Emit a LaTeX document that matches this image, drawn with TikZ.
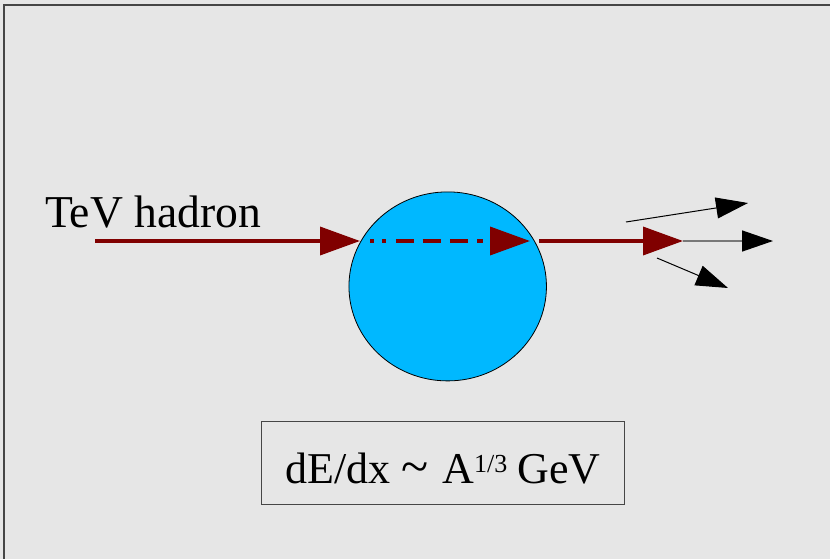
\documentclass[tikz,border=0pt]{standalone}
\usepackage{fontspec}
\setmainfont{Liberation Serif}
\usetikzlibrary{arrows.meta,shapes.geometric}
\definecolor{bg}{RGB}{230,230,230}
\definecolor{darkred}{RGB}{128,0,0}
\definecolor{ballblue}{RGB}{0,184,255}
\definecolor{framegray}{RGB}{70,70,70}
\definecolor{midgray}{RGB}{120,120,120}
\tikzset{
  redarrow/.style={draw=darkred, line width=3.6pt, -{Triangle[length=40pt,width=28pt]}, darkred},
  blackarrow/.style={draw=black, line width=1pt, -{Triangle[length=32pt,width=21pt]}},
  bigtext/.style={font=\fontsize{44}{50}\selectfont, inner sep=0pt, anchor=base west},
}
\begin{document}
\begin{tikzpicture}[x=1pt,y=-1pt]
\fill[bg] (0,0) rectangle (830,559);
\useasboundingbox (0,0) rectangle (830,559);
\draw[framegray, line width=1.2pt] (4,560) -- (4,5) -- (831,5);
% ball
\node[ellipse, draw=black, line width=0.8pt, fill=ballblue, minimum width=197.5pt, minimum height=189pt, inner sep=0pt] (ball) at (447.7,286.4) {};
% label
\node[bigtext, font=\fontsize{45.6}{50}\selectfont] (lbl) at (45,227) {TeV hadron};
% coordinates
\coordinate (src) at (95,241);
\coordinate (hit) at (360,241);
\coordinate (inA) at (370,241);
\coordinate (inB) at (530,241);
\coordinate (outA) at (539,241);
\coordinate (outB) at (683,241);
\coordinate (midT) at (773,241);
\coordinate (upS) at (626,222);
\coordinate (upT) at (748,203);
\coordinate (loS) at (657,258);
\coordinate (loT) at (728,288);
% arrows
\draw[redarrow] (src) -- (hit);
\draw[redarrow, dash pattern=on 4.3pt off 7.7pt on 4.3pt off 9.7pt on 17.6pt off 9pt on 18pt off 9.7pt on 18pt off 8.7pt on 6pt off 30pt] (inA) -- (inB);
\draw[draw=midgray, line width=1.4pt, -{Triangle[length=31pt,width=21pt,color=black]}] (outB) -- (midT);
\draw[redarrow] (outA) -- (outB);
\draw[blackarrow] (upS) -- (upT);
\draw[blackarrow] (loS) -- (loT);
% formula box
\draw[draw=framegray, line width=1pt, fill=bg] (261,421) rectangle (624,504);
\node[bigtext] (formula) at (285,483) {dE/dx\hspace{11pt}{\fontsize{50}{50}\selectfont\textasciitilde}\hspace{14pt}A\raisebox{11pt}{\fontsize{26}{30}\selectfont 1/3}\hspace{10pt}GeV};
\end{tikzpicture}
\end{document}
